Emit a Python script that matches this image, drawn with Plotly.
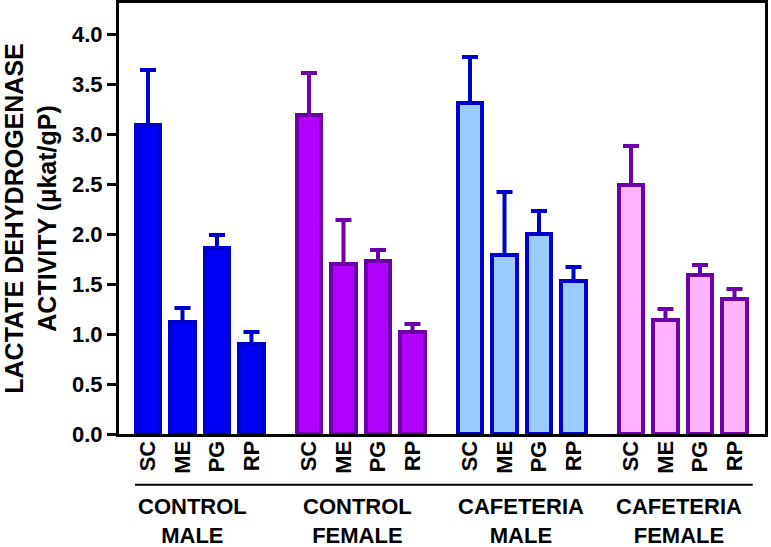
import plotly.graph_objects as go

categories = ["SC", "ME", "PG", "RP"]
groups = ["CONTROL<br>MALE", "CONTROL<br>FEMALE", "CAFETERIA<br>MALE", "CAFETERIA<br>FEMALE"]

ctrl_male = [3.09, 1.12, 1.86, 0.90]
ctrl_male_sem = [0.55, 0.14, 0.13, 0.12]
ctrl_female = [3.19, 1.70, 1.73, 1.02]
ctrl_female_sem = [0.42, 0.44, 0.11, 0.08]
caf_male = [3.31, 1.79, 2.00, 1.53]
caf_male_sem = [0.46, 0.63, 0.23, 0.14]
caf_female = [2.49, 1.14, 1.59, 1.35]
caf_female_sem = [0.39, 0.11, 0.10, 0.10]

y_ticks = [0.0, 0.5, 1.0, 1.5, 2.0, 2.5, 3.0, 3.5, 4.0]

series = [
    (ctrl_male, ctrl_male_sem, "#0000F5", "#0000CC"),
    (ctrl_female, ctrl_female_sem, "#B000FF", "#6E00A8"),
    (caf_male, caf_male_sem, "#99CCFF", "#0000CC"),
    (caf_female, caf_female_sem, "#FFB3FF", "#6E00A8"),
]

GROUP_STEP = 4 + 2 / 3
FONT = "Liberation Sans, Arial, sans-serif"

fig = go.Figure()
tickvals, ticktext = [], []
for g, (vals, sem, fill, edge) in enumerate(series):
    xs = [g * GROUP_STEP + i for i in range(len(categories))]
    tickvals += xs
    ticktext += categories
    fig.add_trace(go.Bar(
        x=xs, y=vals, width=0.70,
        marker=dict(color=fill, line=dict(color=edge, width=4)),
        error_y=dict(type="data", array=sem, arrayminus=[0] * len(sem), symmetric=False,
                     color=edge, thickness=4, width=8),
        showlegend=False,
    ))
    fig.add_annotation(
        x=g * GROUP_STEP + 1.5, xref="x", y=-0.202, yref="paper",
        text=groups[g], showarrow=False, align="center", yanchor="middle",
        xshift=[-7, -3, -1, -4][g],
        font=dict(family=FONT, size=22, color="black", weight="bold"),
    )

fig.add_shape(type="line", xref="paper", yref="paper", x0=0.0248, x1=0.981,
              y0=-0.118, y1=-0.118, line=dict(color="black", width=2))

fig.update_xaxes(
    range=[-0.84, 3 * GROUP_STEP + 3 + 0.884],
    tickvals=tickvals, ticktext=ticktext, tickangle=-90,
    ticks="", ticklabelstandoff=-5,
    tickfont=dict(family=FONT, size=22, color="black", weight="bold"),
    showline=True, linecolor="black", linewidth=3, mirror=True,
    showgrid=False, zeroline=False,
)
fig.update_yaxes(
    range=[0, 4.31], tickvals=y_ticks, ticktext=[f"{v:.1f}" for v in y_ticks],
    ticks="outside", ticklen=9, tickwidth=3, tickcolor="black",
    tickfont=dict(family=FONT, size=22, color="black", weight="bold"),
    showline=True, linecolor="black", linewidth=3, mirror=True,
    showgrid=False, zeroline=False,
    title=dict(text="LACTATE DEHYDROGENASE<br>ACTIVITY (µkat/gP)", standoff=24,
               font=dict(family=FONT, size=25, color="black", weight="bold")),
)
fig.update_layout(
    width=771, height=547,
    margin=dict(l=119, r=6, t=3, b=113, autoexpand=False),
    plot_bgcolor="white", paper_bgcolor="white",
    bargap=0,
)
fig.write_html("out.html", config={"displayModeBar": False},
               post_script="document.body.style.margin='0';")
